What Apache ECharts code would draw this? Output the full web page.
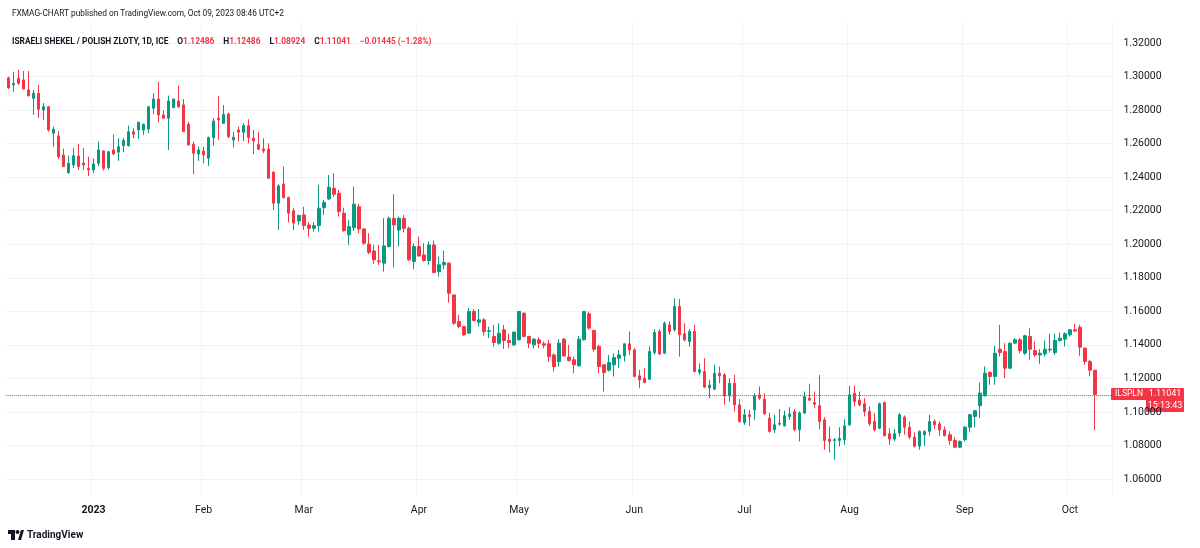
<!DOCTYPE html>
<html>
<head>
<meta charset="utf-8">
<title>ILSPLN</title>
<script src="https://cdn.jsdelivr.net/npm/echarts@6/dist/echarts.min.js"></script>
<style>
  html, body { margin: 0; padding: 0; background: #fff; }
  #chart { width: 1200px; height: 548px; }
</style>
</head>
<body>
<div id="chart"></div>
<script>
// 日K数据：开盘 / 收盘 / 最低 / 最高（2022-12-08 起，工作日）
const opens = [
  1.2991, 1.2950, 1.2990, 1.2980, 1.2920, 1.2870, 1.2900, 1.2800, 1.2820, 1.2662,
  1.2646, 1.2532, 1.2427, 1.2473, 1.2526, 1.2483, 1.2451, 1.2443, 1.2483, 1.2556,
  1.2457, 1.2562, 1.2549, 1.2588, 1.2588, 1.2671, 1.2681, 1.2681, 1.2687, 1.2811,
  1.2866, 1.2771, 1.2751, 1.2815, 1.2854, 1.2831, 1.2715, 1.2596, 1.2538, 1.2556,
  1.2513, 1.2636, 1.2751, 1.2721, 1.2777, 1.2622, 1.2681, 1.2668, 1.2707, 1.2632,
  1.2596, 1.2568, 1.2568, 1.2429, 1.2245, 1.2358, 1.2278, 1.2199, 1.2139, 1.2175,
  1.2115, 1.2095, 1.2111, 1.2218, 1.2270, 1.2334, 1.2304, 1.2185, 1.2056, 1.2099,
  1.2224, 1.2091, 1.2000, 1.1960, 1.1901, 1.1887, 1.1986, 1.2155, 1.2085, 1.2155,
  1.2095, 1.1897, 1.1986, 1.1936, 1.1903, 1.1996, 1.1837, 1.1877, 1.1887, 1.1698,
  1.1539, 1.1509, 1.1470, 1.1599, 1.1535, 1.1549, 1.1480, 1.1450, 1.1410, 1.1490,
  1.1426, 1.1400, 1.1430, 1.1589, 1.1450, 1.1400, 1.1430, 1.1406, 1.1406, 1.1340,
  1.1300, 1.1434, 1.1327, 1.1311, 1.1275, 1.1430, 1.1585, 1.1486, 1.1390, 1.1281,
  1.1249, 1.1281, 1.1320, 1.1334, 1.1406, 1.1370, 1.1215, 1.1201, 1.1195, 1.1354,
  1.1480, 1.1350, 1.1519, 1.1490, 1.1629, 1.1466, 1.1420, 1.1480, 1.1235, 1.1241,
  1.1144, 1.1136, 1.1231, 1.1221, 1.1096, 1.1171, 1.1042, 1.0937, 1.0983, 1.1013,
  1.1102, 1.1076, 1.0963, 1.0894, 1.0927, 1.0917, 1.0973, 1.1003, 1.0894, 1.0993,
  1.1082, 1.1056, 1.1037, 1.0953, 1.0838, 1.0830, 1.0830, 1.0834, 1.0923, 1.1112,
  1.1070, 1.1049, 1.1003, 1.0943, 1.0903, 1.1056, 1.0870, 1.0838, 1.0874, 1.0969,
  1.0909, 1.0850, 1.0796, 1.0864, 1.0884, 1.0943, 1.0929, 1.0893, 1.0864, 1.0830,
  1.0790, 1.0834, 1.0909, 1.0973, 1.1037, 1.1096, 1.1235, 1.1211, 1.1374, 1.1360,
  1.1261, 1.1410, 1.1430, 1.1350, 1.1450, 1.1366, 1.1340, 1.1346, 1.1370, 1.1354,
  1.1426, 1.1434, 1.1460, 1.1490, 1.1505, 1.1380, 1.1301, 1.12486
];
const closes = [
  1.2932, 1.2958, 1.2960, 1.2926, 1.2886, 1.2900, 1.2805, 1.2820, 1.2681, 1.2686,
  1.2522, 1.2463, 1.2483, 1.2528, 1.2463, 1.2473, 1.2443, 1.2479, 1.2562, 1.2453,
  1.2552, 1.2538, 1.2582, 1.2618, 1.2671, 1.2656, 1.2727, 1.2715, 1.2820, 1.2866,
  1.2771, 1.2751, 1.2854, 1.2866, 1.2820, 1.2671, 1.2592, 1.2543, 1.2562, 1.2533,
  1.2636, 1.2735, 1.2741, 1.2775, 1.2642, 1.2638, 1.2668, 1.2707, 1.2636, 1.2616,
  1.2566, 1.2556, 1.2394, 1.2245, 1.2348, 1.2278, 1.2185, 1.2126, 1.2171, 1.2111,
  1.2095, 1.2111, 1.2215, 1.2250, 1.2340, 1.2298, 1.2195, 1.2081, 1.2105, 1.2239,
  1.2091, 1.2006, 1.1952, 1.1907, 1.1895, 1.1990, 1.2155, 1.2115, 1.2155, 1.2095,
  1.1907, 1.1986, 1.1930, 1.1903, 1.1996, 1.1831, 1.1877, 1.1891, 1.1708, 1.1529,
  1.1509, 1.1460, 1.1599, 1.1545, 1.1549, 1.1479, 1.1484, 1.1414, 1.1470, 1.1426,
  1.1414, 1.1476, 1.1599, 1.1450, 1.1410, 1.1434, 1.1410, 1.1398, 1.1330, 1.1271,
  1.1410, 1.1334, 1.1307, 1.1281, 1.1434, 1.1599, 1.1500, 1.1374, 1.1271, 1.1235,
  1.1295, 1.1324, 1.1340, 1.1406, 1.1370, 1.1211, 1.1191, 1.1175, 1.1360, 1.1474,
  1.1346, 1.1529, 1.1480, 1.1629, 1.1460, 1.1430, 1.1480, 1.1241, 1.1251, 1.1148,
  1.1160, 1.1231, 1.1215, 1.1096, 1.1171, 1.1042, 1.0943, 1.0983, 1.0973, 1.1096,
  1.1082, 1.0989, 1.0884, 1.0923, 1.0933, 1.0977, 1.0987, 1.0894, 1.0993, 1.1092,
  1.1070, 1.1046, 1.0943, 1.0830, 1.0824, 1.0834, 1.0842, 1.0917, 1.1102, 1.1062,
  1.1042, 1.1003, 1.0929, 1.0893, 1.1049, 1.0858, 1.0838, 1.0870, 1.0983, 1.0909,
  1.0850, 1.0796, 1.0884, 1.0884, 1.0943, 1.0923, 1.0893, 1.0858, 1.0830, 1.0790,
  1.0824, 1.0909, 1.0983, 1.1007, 1.1112, 1.1231, 1.1211, 1.1350, 1.1354, 1.1261,
  1.1410, 1.1430, 1.1366, 1.1454, 1.1374, 1.1340, 1.1350, 1.1374, 1.1374, 1.1426,
  1.1440, 1.1466, 1.1490, 1.1482, 1.1386, 1.1301, 1.1249, 1.11041
];
const lows = [
  1.2925, 1.2910, 1.2950, 1.2926, 1.2880, 1.2771, 1.2753, 1.2741, 1.2671, 1.2582,
  1.2508, 1.2460, 1.2420, 1.2455, 1.2443, 1.2443, 1.2407, 1.2423, 1.2467, 1.2440,
  1.2445, 1.2533, 1.2497, 1.2549, 1.2582, 1.2632, 1.2628, 1.2652, 1.2662, 1.2775,
  1.2727, 1.2748, 1.2562, 1.2811, 1.2811, 1.2669, 1.2588, 1.2417, 1.2497, 1.2483,
  1.2467, 1.2588, 1.2622, 1.2717, 1.2632, 1.2576, 1.2612, 1.2616, 1.2602, 1.2537,
  1.2562, 1.2543, 1.2389, 1.2205, 1.2085, 1.2274, 1.2131, 1.2085, 1.2115, 1.2085,
  1.2046, 1.2075, 1.2075, 1.2175, 1.2264, 1.2284, 1.2165, 1.2075, 1.1996, 1.2079,
  1.2066, 1.1996, 1.1940, 1.1881, 1.1877, 1.1837, 1.1980, 1.1861, 1.1986, 1.2070,
  1.1901, 1.1851, 1.1926, 1.1897, 1.1877, 1.1827, 1.1807, 1.1851, 1.1652, 1.1519,
  1.1499, 1.1454, 1.1466, 1.1539, 1.1509, 1.1454, 1.1440, 1.1390, 1.1400, 1.1375,
  1.1380, 1.1394, 1.1426, 1.1446, 1.1380, 1.1380, 1.1380, 1.1380, 1.1300, 1.1241,
  1.1271, 1.1330, 1.1300, 1.1231, 1.1271, 1.1426, 1.1490, 1.1360, 1.1231, 1.1122,
  1.1241, 1.1211, 1.1261, 1.1300, 1.1340, 1.1207, 1.1142, 1.1171, 1.1191, 1.1340,
  1.1340, 1.1346, 1.1460, 1.1480, 1.1330, 1.1420, 1.1390, 1.1235, 1.1221, 1.1142,
  1.1082, 1.1130, 1.1171, 1.1042, 1.1062, 1.1003, 1.0937, 1.0923, 1.0917, 1.0953,
  1.1072, 1.0983, 1.0878, 1.0874, 1.0917, 1.0913, 1.0953, 1.0884, 1.0824, 1.0987,
  1.1066, 1.1023, 1.0897, 1.0774, 1.0758, 1.0715, 1.0794, 1.0804, 1.0917, 1.1033,
  1.1033, 1.0973, 1.0917, 1.0884, 1.0897, 1.0854, 1.0804, 1.0826, 1.0854, 1.0864,
  1.0838, 1.0787, 1.0774, 1.0798, 1.0858, 1.0897, 1.0858, 1.0854, 1.0804, 1.0784,
  1.0784, 1.0824, 1.0878, 1.0909, 1.0963, 1.1092, 1.1162, 1.1162, 1.1330, 1.1201,
  1.1255, 1.1406, 1.1350, 1.1340, 1.1311, 1.1330, 1.1287, 1.1330, 1.1354, 1.1340,
  1.1420, 1.1390, 1.1450, 1.1480, 1.1334, 1.1281, 1.1211, 1.08924
];
const highs = [
  1.3000, 1.3029, 1.3039, 1.3033, 1.3033, 1.2920, 1.2950, 1.2842, 1.2825, 1.2701,
  1.2675, 1.2570, 1.2527, 1.2574, 1.2598, 1.2574, 1.2522, 1.2512, 1.2612, 1.2560,
  1.2556, 1.2656, 1.2632, 1.2634, 1.2707, 1.2691, 1.2731, 1.2721, 1.2822, 1.2900,
  1.2969, 1.2800, 1.2886, 1.2868, 1.2946, 1.2866, 1.2731, 1.2612, 1.2582, 1.2582,
  1.2642, 1.2751, 1.2884, 1.2830, 1.2785, 1.2671, 1.2701, 1.2721, 1.2745, 1.2681,
  1.2671, 1.2632, 1.2602, 1.2437, 1.2358, 1.2463, 1.2284, 1.2218, 1.2177, 1.2224,
  1.2131, 1.2131, 1.2354, 1.2264, 1.2413, 1.2423, 1.2324, 1.2218, 1.2145, 1.2344,
  1.2239, 1.2095, 1.2066, 1.1996, 1.1996, 1.2155, 1.2165, 1.2298, 1.2165, 1.2175,
  1.2105, 1.2006, 1.2046, 1.2006, 1.2016, 1.2022, 1.1926, 1.1962, 1.1891, 1.1700,
  1.1579, 1.1513, 1.1619, 1.1613, 1.1613, 1.1559, 1.1509, 1.1519, 1.1529, 1.1519,
  1.1466, 1.1480, 1.1602, 1.1593, 1.1454, 1.1440, 1.1446, 1.1420, 1.1430, 1.1350,
  1.1434, 1.1440, 1.1400, 1.1330, 1.1454, 1.1602, 1.1599, 1.1490, 1.1400, 1.1285,
  1.1340, 1.1350, 1.1370, 1.1410, 1.1480, 1.1380, 1.1251, 1.1261, 1.1390, 1.1494,
  1.1494, 1.1539, 1.1539, 1.1678, 1.1673, 1.1529, 1.1494, 1.1519, 1.1290, 1.1321,
  1.1190, 1.1281, 1.1271, 1.1231, 1.1201, 1.1221, 1.1076, 1.1017, 1.1013, 1.1112,
  1.1152, 1.1112, 1.0993, 1.0983, 1.1017, 1.1007, 1.1029, 1.1017, 1.1003, 1.1122,
  1.1168, 1.1122, 1.1221, 1.0969, 1.0913, 1.0844, 1.0909, 1.0957, 1.1156, 1.1156,
  1.1122, 1.1082, 1.1033, 1.0993, 1.1056, 1.1062, 1.0903, 1.0897, 1.0993, 1.0979,
  1.0943, 1.0878, 1.0889, 1.0889, 1.0983, 1.0957, 1.0943, 1.0913, 1.0884, 1.0850,
  1.0830, 1.0917, 1.0989, 1.1013, 1.1175, 1.1271, 1.1241, 1.1394, 1.1519, 1.1410,
  1.1414, 1.1440, 1.1440, 1.1460, 1.1500, 1.1420, 1.1374, 1.1426, 1.1466, 1.1466,
  1.1474, 1.1474, 1.1494, 1.1525, 1.1519, 1.1386, 1.1311, 1.12486
];
// 价格轴刻度
const priceTicks = [1.06, 1.08, 1.10, 1.12, 1.14, 1.16, 1.18, 1.20, 1.22, 1.24, 1.26, 1.28, 1.30, 1.32];
const monthNames = ['2023', 'Feb', 'Mar', 'Apr', 'May', 'Jun', 'Jul', 'Aug', 'Sep', 'Oct', 'Nov', 'Dec'];

// 交易日（工作日），末尾留三天空白
const dates = [];
let day = new Date(Date.UTC(2022, 11, 8));
const endDay = new Date(Date.UTC(2023, 9, 12));
while (day <= endDay) {
    const wd = day.getUTCDay();
    if (wd !== 0 && wd !== 6) {
        dates.push(day.toISOString().slice(0, 10));
    }
    day = new Date(day.getTime() + 86400000);
}

// 月初标记
function isMonthStart(index) {
    if (index === 0) return false;
    return dates[index].slice(5, 7) !== dates[index - 1].slice(5, 7);
}

const candleData = opens.map((o, i) => [o, closes[i], lows[i], highs[i]]);
const lastClose = closes[closes.length - 1];

const UP = '#089981';
const DOWN = '#f23645';
const TEXT = '#131722';
const FONT = 'Roboto, "Noto Sans", sans-serif';

let chart = echarts.init(document.getElementById('chart'));

let option = {
    backgroundColor: '#ffffff',
    animation: false,
    textStyle: { fontFamily: FONT },
    title: [
        {
            text: 'FXMAG-CHART published on TradingView.com, Oct 09, 2023 08:46 UTC+2',
            left: 7, top: 5,
            textStyle: { fontSize: 8.3, fontWeight: 'normal', color: TEXT, fontFamily: FONT }
        },
        {
            text: '{n|ISRAELI SHEKEL / POLISH ZLOTY, 1D, ICE}  {k|O}{v|1.12486}  {k|H}{v|1.12486}  {k|L}{v|1.08924}  {k|C}{v|1.11041}  {v|\u22120.01445 (\u22121.28%)}',
            left: 7, top: 28,
            textStyle: {
                fontFamily: FONT,
                rich: {
                    n: { fontSize: 8.4, color: TEXT, fontFamily: FONT },
                    k: { fontSize: 8.4, color: TEXT, fontFamily: FONT },
                    v: { fontSize: 8.4, color: DOWN, fontFamily: FONT }
                }
            }
        }
    ],
    grid: { left: 5.8, right: 87.5, top: 22, bottom: 51 },
    xAxis: {
        type: 'category',
        data: dates,
        boundaryGap: true,
        axisLine: { show: false },
        axisTick: { show: false },
        axisLabel: {
            interval: (index) => isMonthStart(index),
            formatter: (value) => {
                const m = parseInt(value.slice(5, 7), 10) - 1;
                return m === 0 ? '{b|2023}' : monthNames[m];
            },
            color: TEXT,
            fontSize: 10.5,
            margin: 8,
            rich: { b: { fontWeight: 'bold', fontSize: 10.5, color: TEXT } }
        },
        splitLine: {
            show: true,
            interval: (index) => isMonthStart(index),
            lineStyle: { color: '#f0f3fa', width: 1 }
        }
    },
    yAxis: {
        type: 'value',
        position: 'right',
        min: 1.04927,
        max: 1.33252,
        scale: true,
        axisLine: { show: false },
        axisTick: { show: false, customValues: priceTicks },
        axisLabel: {
            customValues: priceTicks,
            formatter: (v) => v.toFixed(5),
            color: TEXT,
            fontSize: 10.5,
            margin: 11
        },
        splitLine: { show: true, lineStyle: { color: '#f0f3fa', width: 1 } }
    },
    series: [
        {
            type: 'candlestick',
            data: candleData,
            barWidth: 3,
            itemStyle: {
                color: UP,
                color0: DOWN,
                borderColor: UP,
                borderColor0: DOWN,
                borderWidth: 1
            },
            markLine: {
                silent: true,
                symbol: 'none',
                label: { show: false },
                lineStyle: { color: DOWN, type: 'dotted', width: 1 },
                data: [{ yAxis: lastClose }]
            }
        }
    ]
};

chart.setOption(option);

// 右侧当前价标签
let yPx = chart.convertToPixel({ yAxisIndex: 0 }, lastClose);
chart.setOption({
    graphic: [
        {
            type: 'rect',
            shape: { x: 1111, y: yPx - 6.5, width: 36, height: 12, r: 1 },
            style: { fill: DOWN }
        },
        {
            type: 'text',
            x: 1129, y: yPx - 0.5,
            style: { text: 'ILSPLN', fill: '#fff', font: '8.5px ' + FONT, align: 'center', verticalAlign: 'middle' }
        },
        {
            type: 'rect',
            shape: { x: 1146, y: yPx - 6.5, width: 38, height: 24, r: 1 },
            style: { fill: DOWN }
        },
        {
            type: 'text',
            x: 1165, y: yPx - 0.5,
            style: { text: '1.11041', fill: '#fff', font: '9px ' + FONT, align: 'center', verticalAlign: 'middle' }
        },
        {
            type: 'text',
            x: 1165, y: yPx + 11,
            style: { text: '15:13:43', fill: '#fff', font: '9px ' + FONT, align: 'center', verticalAlign: 'middle' }
        },
        // TradingView 标志
        {
            type: 'rect',
            shape: { x: 8, y: 530, width: 7, height: 4 },
            style: { fill: TEXT }
        },
        {
            type: 'rect',
            shape: { x: 11, y: 530, width: 4, height: 10 },
            style: { fill: TEXT }
        },
        {
            type: 'circle',
            shape: { cx: 17.5, cy: 532, r: 2 },
            style: { fill: TEXT }
        },
        {
            type: 'polygon',
            shape: { points: [[18, 540], [21, 530], [24, 530], [21, 540]] },
            style: { fill: TEXT }
        },
        {
            type: 'text',
            x: 27, y: 535,
            style: { text: 'TradingView', fill: TEXT, font: 'bold 10px ' + FONT, verticalAlign: 'middle' }
        }
    ]
});
</script>
</body>
</html>
